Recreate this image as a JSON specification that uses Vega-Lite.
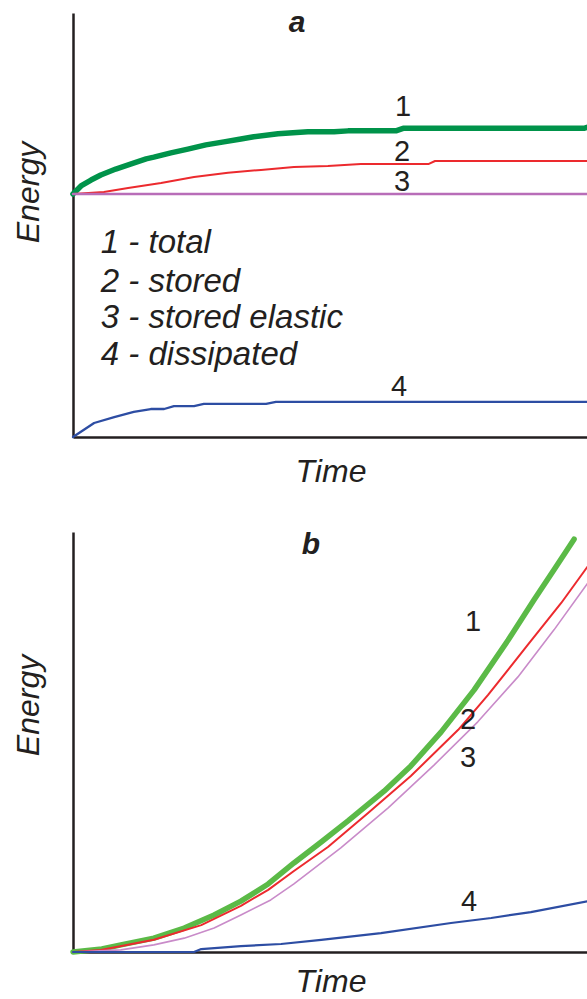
{
  "$schema": "https://vega.github.io/schema/vega-lite/v6.json",
  "background": "white",
  "padding": {"left": 12, "top": 8, "right": 0, "bottom": 0},
  "bounds": "flush",
  "spacing": 95,
  "config": {
    "view": {"stroke": null},
    "font": "Liberation Sans",
    "axis": {
      "domainColor": "#231F20",
      "domainWidth": 2.5,
      "ticks": false,
      "labels": false,
      "grid": false,
      "titleFont": "Liberation Sans",
      "titleFontStyle": "italic",
      "titleFontWeight": "normal",
      "titleFontSize": 32,
      "titleColor": "#231F20"
    },
    "text": {"font": "Liberation Sans", "color": "#231F20"},
    "line": {"strokeJoin": "round", "strokeCap": "round"}
  },
  "datasets": {
    "aLines": [
      {"s": "1", "t": 0, "E": 57.3},
      {"s": "1", "t": 1.55, "E": 59.2},
      {"s": "1", "t": 3.5, "E": 60.6},
      {"s": "1", "t": 5.4, "E": 61.8},
      {"s": "1", "t": 8.3, "E": 63.2},
      {"s": "1", "t": 11.3, "E": 64.4},
      {"s": "1", "t": 14.2, "E": 65.6},
      {"s": "1", "t": 15.7, "E": 66.0},
      {"s": "1", "t": 19.0, "E": 67.0},
      {"s": "1", "t": 22.3, "E": 67.9},
      {"s": "1", "t": 25.8, "E": 68.9},
      {"s": "1", "t": 29.3, "E": 69.6},
      {"s": "1", "t": 32.6, "E": 70.3},
      {"s": "1", "t": 35.1, "E": 70.8},
      {"s": "1", "t": 39.8, "E": 71.5},
      {"s": "1", "t": 45.6, "E": 72.0},
      {"s": "1", "t": 50.7, "E": 72.0},
      {"s": "1", "t": 53.4, "E": 72.2},
      {"s": "1", "t": 62.7, "E": 72.2},
      {"s": "1", "t": 64.1, "E": 72.8},
      {"s": "1", "t": 99.2, "E": 72.8},
      {"s": "1", "t": 100, "E": 73.1},
      {"s": "2", "t": 0, "E": 57.3},
      {"s": "2", "t": 6.0, "E": 57.8},
      {"s": "2", "t": 10.7, "E": 58.7},
      {"s": "2", "t": 17.1, "E": 59.9},
      {"s": "2", "t": 23.5, "E": 61.3},
      {"s": "2", "t": 30.1, "E": 62.3},
      {"s": "2", "t": 36.5, "E": 63.0},
      {"s": "2", "t": 42.9, "E": 63.7},
      {"s": "2", "t": 49.5, "E": 63.9},
      {"s": "2", "t": 55.9, "E": 64.4},
      {"s": "2", "t": 69.1, "E": 64.4},
      {"s": "2", "t": 70.3, "E": 65.1},
      {"s": "2", "t": 100, "E": 65.1},
      {"s": "3", "t": 0, "E": 57.3},
      {"s": "3", "t": 100, "E": 57.3},
      {"s": "4", "t": 0, "E": 0},
      {"s": "4", "t": 4.1, "E": 3.3},
      {"s": "4", "t": 8.0, "E": 4.7},
      {"s": "4", "t": 11.8, "E": 5.9},
      {"s": "4", "t": 15.1, "E": 6.6},
      {"s": "4", "t": 17.7, "E": 6.6},
      {"s": "4", "t": 19.6, "E": 7.3},
      {"s": "4", "t": 23.5, "E": 7.3},
      {"s": "4", "t": 25.4, "E": 7.8},
      {"s": "4", "t": 37.5, "E": 7.8},
      {"s": "4", "t": 39.4, "E": 8.3},
      {"s": "4", "t": 100, "E": 8.3}
    ],
    "aLabels": [
      {"label": "1", "t": 64.1, "E": 77.8},
      {"label": "2", "t": 63.9, "E": 67.2},
      {"label": "3", "t": 63.9, "E": 60.1},
      {"label": "4", "t": 63.3, "E": 11.8}
    ],
    "aLegend": [
      {"label": "1 - total", "t": 5.4, "E": 45.8},
      {"label": "2 - stored", "t": 5.4, "E": 36.6},
      {"label": "3 - stored elastic", "t": 5.4, "E": 28.1},
      {"label": "4 - dissipated", "t": 5.4, "E": 19.3}
    ],
    "bLines": [
      {"s": "1", "t": 0, "E": 0},
      {"s": "1", "t": 5.6, "E": 0.7},
      {"s": "1", "t": 9.3, "E": 1.7},
      {"s": "1", "t": 15.7, "E": 3.3},
      {"s": "1", "t": 21.6, "E": 5.7},
      {"s": "1", "t": 27.4, "E": 8.8},
      {"s": "1", "t": 32.6, "E": 12.1},
      {"s": "1", "t": 37.9, "E": 16.2},
      {"s": "1", "t": 42.9, "E": 21.2},
      {"s": "1", "t": 48.2, "E": 26.2},
      {"s": "1", "t": 53.4, "E": 31.2},
      {"s": "1", "t": 60.4, "E": 38.3},
      {"s": "1", "t": 65.6, "E": 44.3},
      {"s": "1", "t": 71.5, "E": 52.4},
      {"s": "1", "t": 77.9, "E": 62.4},
      {"s": "1", "t": 84.5, "E": 74.3},
      {"s": "1", "t": 89.5, "E": 83.8},
      {"s": "1", "t": 93.4, "E": 91.0},
      {"s": "1", "t": 97.3, "E": 98.3},
      {"s": "2", "t": 0, "E": 0},
      {"s": "2", "t": 5.4, "E": 0.5},
      {"s": "2", "t": 15.7, "E": 2.9},
      {"s": "2", "t": 24.9, "E": 6.4},
      {"s": "2", "t": 32.6, "E": 11.0},
      {"s": "2", "t": 37.9, "E": 14.8},
      {"s": "2", "t": 42.9, "E": 19.3},
      {"s": "2", "t": 49.5, "E": 25.0},
      {"s": "2", "t": 57.3, "E": 33.1},
      {"s": "2", "t": 65.6, "E": 41.9},
      {"s": "2", "t": 74.8, "E": 52.9},
      {"s": "2", "t": 80.6, "E": 61.2},
      {"s": "2", "t": 88.3, "E": 73.1},
      {"s": "2", "t": 94.8, "E": 83.1},
      {"s": "2", "t": 100, "E": 91.9},
      {"s": "3", "t": 0, "E": 0},
      {"s": "3", "t": 9.3, "E": 0.5},
      {"s": "3", "t": 15.7, "E": 1.7},
      {"s": "3", "t": 21.6, "E": 3.3},
      {"s": "3", "t": 27.4, "E": 5.7},
      {"s": "3", "t": 32.6, "E": 8.8},
      {"s": "3", "t": 38.4, "E": 12.4},
      {"s": "3", "t": 42.9, "E": 16.2},
      {"s": "3", "t": 52.0, "E": 24.8},
      {"s": "3", "t": 61.2, "E": 34.3},
      {"s": "3", "t": 70.1, "E": 44.5},
      {"s": "3", "t": 78.6, "E": 54.8},
      {"s": "3", "t": 86.4, "E": 65.5},
      {"s": "3", "t": 93.4, "E": 76.7},
      {"s": "3", "t": 100, "E": 87.9},
      {"s": "4", "t": 0, "E": 0},
      {"s": "4", "t": 23.5, "E": 0},
      {"s": "4", "t": 24.9, "E": 0.7},
      {"s": "4", "t": 32.6, "E": 1.4},
      {"s": "4", "t": 40.4, "E": 1.9},
      {"s": "4", "t": 48.2, "E": 2.9},
      {"s": "4", "t": 59.8, "E": 4.5},
      {"s": "4", "t": 73.4, "E": 6.9},
      {"s": "4", "t": 81.2, "E": 8.1},
      {"s": "4", "t": 88.9, "E": 9.5},
      {"s": "4", "t": 100, "E": 12.1}
    ],
    "bLabels": [
      {"label": "1", "t": 77.7, "E": 78.6},
      {"label": "2", "t": 76.7, "E": 55.2},
      {"label": "3", "t": 76.7, "E": 46.2},
      {"label": "4", "t": 76.9, "E": 11.9}
    ]
  },
  "vconcat": [
    {
      "width": 515,
      "height": 424,
      "encoding": {
        "x": {"field": "t", "type": "quantitative", "scale": {"domain": [0, 100], "nice": false, "zero": false}, "axis": {"title": "Time", "titlePadding": 19}},
        "y": {"field": "E", "type": "quantitative", "scale": {"domain": [0, 100], "nice": false}, "axis": {"title": "Energy", "titlePadding": 28, "titleY": 179}}
      },
      "layer": [
        {"data": {"name": "aLines"}, "transform": [{"filter": "datum.s == '1'"}], "mark": {"type": "line", "color": "#00934A", "strokeWidth": 5.5}, "encoding": {}},
        {"data": {"name": "aLines"}, "transform": [{"filter": "datum.s == '2'"}], "mark": {"type": "line", "color": "#EC2A2E", "strokeWidth": 2}, "encoding": {}},
        {"data": {"name": "aLines"}, "transform": [{"filter": "datum.s == '3'"}], "mark": {"type": "line", "color": "#B86DB8", "strokeWidth": 2.5}, "encoding": {}},
        {"data": {"name": "aLines"}, "transform": [{"filter": "datum.s == '4'"}], "mark": {"type": "line", "color": "#2D4DA3", "strokeWidth": 2.3}, "encoding": {}},
        {
          "data": {"name": "aLabels"},
          "mark": {"type": "text", "fontSize": 29, "align": "center", "baseline": "middle"},
          "encoding": {"text": {"field": "label"}}
        },
        {
          "data": {"name": "aLegend"},
          "mark": {"type": "text", "fontSize": 33, "fontStyle": "italic", "align": "left", "baseline": "middle"},
          "encoding": {"text": {"field": "label"}}
        },
        {
          "data": {"values": [{"label": "a", "t": 43.5, "E": 97.6}]},
          "mark": {"type": "text", "fontSize": 30, "fontStyle": "italic", "fontWeight": "bold", "align": "center", "baseline": "middle"},
          "encoding": {"text": {"field": "label"}}
        }
      ]
    },
    {
      "width": 515,
      "height": 420,
      "encoding": {
        "x": {"field": "t", "type": "quantitative", "scale": {"domain": [0, 100], "nice": false, "zero": false}, "axis": {"title": "Time", "titlePadding": 14}},
        "y": {"field": "E", "type": "quantitative", "scale": {"domain": [0, 100], "nice": false}, "axis": {"title": "Energy", "titlePadding": 28, "titleY": 173}}
      },
      "layer": [
        {"data": {"name": "bLines"}, "transform": [{"filter": "datum.s == '1'"}], "mark": {"type": "line", "color": "#5BBA47", "strokeWidth": 5.5}, "encoding": {}},
        {"data": {"name": "bLines"}, "transform": [{"filter": "datum.s == '2'"}], "mark": {"type": "line", "color": "#EC2A2E", "strokeWidth": 2}, "encoding": {}},
        {"data": {"name": "bLines"}, "transform": [{"filter": "datum.s == '3'"}], "mark": {"type": "line", "color": "#C98BC9", "strokeWidth": 1.6}, "encoding": {}},
        {"data": {"name": "bLines"}, "transform": [{"filter": "datum.s == '4'"}], "mark": {"type": "line", "color": "#2D4DA3", "strokeWidth": 2.2}, "encoding": {}},
        {
          "data": {"name": "bLabels"},
          "mark": {"type": "text", "fontSize": 29, "align": "center", "baseline": "middle"},
          "encoding": {"text": {"field": "label"}}
        },
        {
          "data": {"values": [{"label": "b", "t": 46.2, "E": 96.9}]},
          "mark": {"type": "text", "fontSize": 30, "fontStyle": "italic", "fontWeight": "bold", "align": "center", "baseline": "middle"},
          "encoding": {"text": {"field": "label"}}
        }
      ]
    }
  ]
}
